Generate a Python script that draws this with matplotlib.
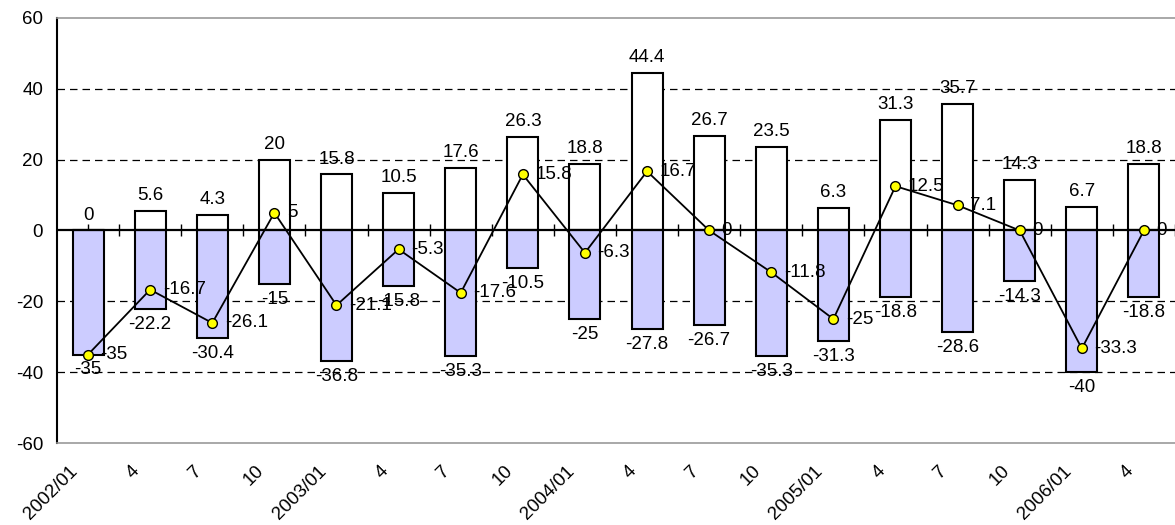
import matplotlib.pyplot as plt
import matplotlib.transforms as mtransforms
import numpy as np

plt.rcParams['font.family'] = ['Liberation Sans', 'DejaVu Sans']
plt.rcParams['axes.unicode_minus'] = False

# quarters
labels = ['2002/01', '4', '7', '10', '2003/01', '4', '7', '10', '2004/01', '4', '7', '10',
          '2005/01', '4', '7', '10', '2006/01', '4']
# upper bars (white)
pos_vals = [0, 5.6, 4.3, 20, 15.8, 10.5, 17.6, 26.3, 18.8, 44.4, 26.7, 23.5,
            6.3, 31.3, 35.7, 14.3, 6.7, 18.8]
# lower bars (lavender)
neg_vals = [-35, -22.2, -30.4, -15, -36.8, -15.8, -35.3, -10.5, -25, -27.8, -26.7, -35.3,
            -31.3, -18.8, -28.6, -14.3, -40, -18.8]
# line (net)
line_vals = [-35, -16.7, -26.1, 5, -21.1, -5.3, -17.6, 15.8, -6.3, 16.7, 0, -11.8,
             -25, 12.5, 7.1, 0, -33.3, 0]


def fmt(v):
    return ('%g' % v)


x = np.arange(len(labels))
fs = 13.5

fig = plt.figure(figsize=(11.75, 5.25), dpi=100)
ax = fig.add_axes([0.0485, 0.156, 0.9515, 0.81])

ax.bar(x, pos_vals, width=0.5, color='white', edgecolor='black', linewidth=1.5, zorder=3)
ax.bar(x, neg_vals, width=0.5, color='#CCCCFF', edgecolor='black', linewidth=1.5, zorder=3)
ax.plot(x, line_vals, color='black', linewidth=1.3, marker='o', markersize=7,
        markerfacecolor='#FFFF00', markeredgecolor='black', markeredgewidth=1.0, zorder=5)

for xi, v in zip(x, pos_vals):
    ax.annotate(fmt(v), (xi, v), xytext=(0, 5), textcoords='offset points',
                ha='center', va='bottom', fontsize=fs, zorder=6)
for xi, v in zip(x, neg_vals):
    ax.annotate(fmt(v), (xi, v), xytext=(0, -5), textcoords='offset points',
                ha='center', va='top', fontsize=fs, zorder=6)
for xi, v in zip(x, line_vals):
    ax.annotate(fmt(v), (xi, v), xytext=(9, 0), textcoords='offset points',
                ha='left', va='center', fontsize=fs, zorder=6)

ax.set_xlim(-0.5, len(labels) - 0.5)
ax.set_ylim(-60, 60)
ax.set_yticks(np.arange(-60, 61, 20))
for g in [-40, -20, 20, 40]:
    ax.axhline(g, color='black', linestyle=(0, (6, 4)), linewidth=0.9, zorder=1)
ax.axhline(0, color='black', linewidth=1.6, zorder=4)

ax.set_xticks(x)
ax.set_xticklabels(labels, rotation=45, ha='right', rotation_mode='anchor', fontsize=fs)
ax.tick_params(axis='x', length=0, pad=14)
ax.tick_params(axis='y', length=0, pad=10, labelsize=fs)
shift = mtransforms.ScaledTranslation(-19 / 100, 0, fig.dpi_scale_trans)
for t in ax.get_xticklabels():
    t.set_transform(t.get_transform() + shift)

for s in ['top', 'bottom']:
    ax.spines[s].set_color('#999999')
    ax.spines[s].set_linewidth(1.2)
ax.spines['left'].set_color('black')
ax.spines['left'].set_linewidth(1.5)
ax.spines['right'].set_visible(False)

# tick marks on the zero line
sec = ax.secondary_xaxis(0.5)
sec.set_xticks(np.arange(0, len(labels), 0.5))
sec.tick_params(axis='x', direction='inout', length=8, width=1.0, labelbottom=False, labeltop=False)
sec.spines['bottom'].set_visible(False)
sec.spines['top'].set_visible(False)
sec.set_xticklabels([])

fig.savefig('out.png', dpi=100)
